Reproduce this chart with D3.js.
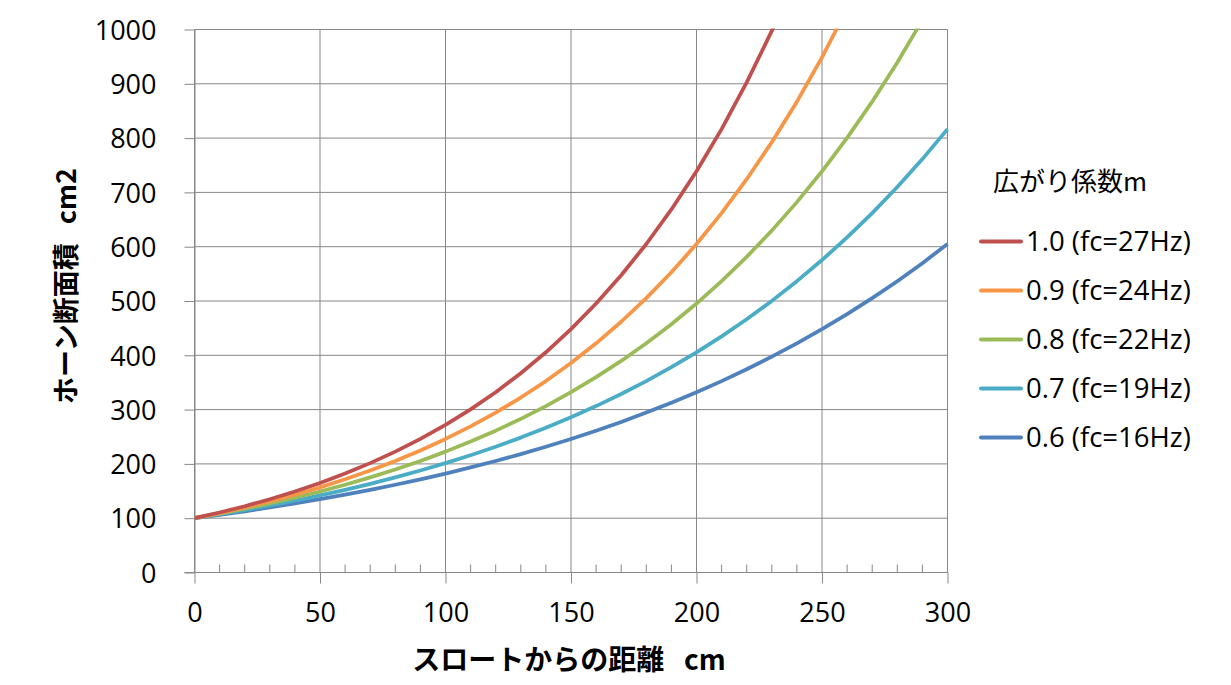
<!DOCTYPE html>
<html>
<head>
<meta charset="utf-8">
<script src="https://cdn.jsdelivr.net/npm/d3@7"></script>
<style>
  body { margin: 0; background: #fff; }
  text { font-family: "Open Sans", "Noto Sans CJK JP", sans-serif; fill: #000; }
  .jp { font-family: "Noto Sans CJK JP", sans-serif; }
</style>
</head>
<body>
<svg id="chart" width="1231" height="685"></svg>
<script>
// distance from throat, cm
const distances = d3.range(0, 301, 10);

const seriesNames = ["1.0 (fc=27Hz)", "0.9 (fc=24Hz)", "0.8 (fc=22Hz)", "0.7 (fc=19Hz)", "0.6 (fc=16Hz)"];
const seriesColors = ["#C0504D", "#F79646", "#9BBB59", "#4BACC6", "#4F81BD"];

// horn cross-section area, cm2
const area10 = [100, 110.5, 122.1, 135.0, 149.2, 164.9, 182.2, 201.4, 222.6, 246.0, 271.8, 300.4, 332.0, 366.9, 405.5, 448.2,
  495.3, 547.4, 605.0, 668.6, 738.9, 816.6, 902.5, 997.4, 1102.3, 1218.2, 1346.4, 1488.0, 1644.5, 1817.4, 2008.6];
const area09 = [100, 109.4, 119.7, 131.0, 143.3, 156.8, 171.6, 187.7, 205.4, 224.8, 246.0, 269.1, 294.5, 322.2, 352.5, 385.7,
  422.1, 461.8, 505.3, 552.9, 605.0, 661.9, 724.3, 792.5, 867.1, 948.8, 1038.2, 1135.9, 1242.9, 1359.9, 1488.0];
const area08 = [100, 108.3, 117.4, 127.1, 137.7, 149.2, 161.6, 175.1, 189.6, 205.4, 222.6, 241.1, 261.2, 282.9, 306.5, 332.0,
  359.7, 389.6, 422.1, 457.2, 495.3, 536.5, 581.2, 629.6, 682.1, 738.9, 800.4, 867.1, 939.3, 1017.5, 1102.3];
const area07 = [100, 107.3, 115.0, 123.4, 132.3, 141.9, 152.2, 163.2, 175.1, 187.8, 201.4, 216.0, 231.6, 248.4, 266.4, 285.8,
  306.5, 328.7, 352.5, 378.1, 405.5, 434.9, 466.4, 500.2, 536.5, 575.4, 617.1, 661.9, 709.9, 761.3, 816.6];
const area06 = [100, 106.2, 112.7, 119.7, 127.1, 135.0, 143.3, 152.2, 161.6, 171.6, 182.2, 193.5, 205.4, 218.1, 231.6, 246.0,
  261.2, 277.3, 294.5, 312.7, 332.0, 352.5, 374.3, 397.5, 422.1, 448.2, 475.9, 505.3, 536.5, 569.7, 605.0];

const allAreas = [area10, area09, area08, area07, area06];

const xTicks = [0, 50, 100, 150, 200, 250, 300];
const xMinorTicks = d3.range(0, 301, 10);
const yTicks = d3.range(0, 1001, 100);

const legendTitle = "広がり係数m";
const xTitle = "スロートからの距離\u2002\u2009cm";
const yTitle = "ホーン断面積\u2002\u2009cm2";

const plotL = 194.5, plotR = 947.5, plotT = 29.5, plotB = 572.5;
const gridColor = "#878787";

const svg = d3.select("#chart");

const x = d3.scaleLinear().domain([0, 300]).range([plotL, plotR]);
const y = d3.scaleLinear().domain([0, 1000]).range([plotB, plotT]);

// gridlines
svg.append("g").selectAll("line")
  .data(yTicks)
  .join("line")
  .attr("x1", plotL).attr("x2", plotR)
  .attr("y1", d => y(d)).attr("y2", d => y(d))
  .attr("stroke", gridColor);

svg.append("g").selectAll("line")
  .data(xTicks)
  .join("line")
  .attr("x1", d => x(d)).attr("x2", d => x(d))
  .attr("y1", plotT).attr("y2", plotB)
  .attr("stroke", gridColor);

// y axis
const yAxis = svg.append("g")
  .attr("transform", `translate(${plotL},0)`)
  .call(d3.axisLeft(y).tickValues(yTicks).tickFormat(d3.format("d"))
    .tickSize(10).tickPadding(28).tickSizeOuter(0));
yAxis.select(".domain").attr("stroke", gridColor);
yAxis.selectAll(".tick line").attr("stroke", gridColor);
yAxis.selectAll(".tick text").style("font-size", "27px").attr("dy", "0.36em");

// x axis, major ticks hang below
const xAxis = svg.append("g")
  .attr("transform", `translate(0,${plotB})`)
  .call(d3.axisBottom(x).tickValues(xTicks).tickFormat(d3.format("d"))
    .tickSize(11).tickPadding(0).tickSizeOuter(0));
xAxis.select(".domain").remove();
xAxis.selectAll(".tick line").attr("stroke", gridColor);
xAxis.selectAll(".tick text").style("font-size", "27px").attr("y", 49).attr("dy", 0);

svg.append("line")
  .attr("x1", plotL - 10).attr("x2", plotR)
  .attr("y1", plotB).attr("y2", plotB)
  .attr("stroke", gridColor);

// minor ticks stand up inside the plot
svg.append("g").selectAll("line")
  .data(xMinorTicks.filter(d => d % 50 !== 0))
  .join("line")
  .attr("x1", d => x(d)).attr("x2", d => x(d))
  .attr("y1", plotB).attr("y2", plotB - 8)
  .attr("stroke", gridColor);

// curves
svg.append("clipPath").attr("id", "plotClip")
  .append("rect")
  .attr("x", plotL).attr("y", plotT - 1)
  .attr("width", plotR - plotL + 2).attr("height", plotB - plotT + 1);

const line = d3.line()
  .x((d, i) => x(distances[i]))
  .y(d => y(d));

svg.append("g")
  .attr("clip-path", "url(#plotClip)")
  .selectAll("path")
  .data(allAreas.slice().reverse())
  .join("path")
  .attr("d", line)
  .attr("fill", "none")
  .attr("stroke", (d, i) => seriesColors[allAreas.length - 1 - i])
  .attr("stroke-width", 3.75)
  .attr("stroke-linejoin", "round");

// legend
const legend = svg.append("g");
legend.append("text")
  .attr("class", "jp")
  .attr("x", 993).attr("y", 191)
  .style("font-size", "26px")
  .text(legendTitle);

const rows = legend.selectAll("g.row")
  .data(seriesNames)
  .join("g")
  .attr("class", "row")
  .attr("transform", (d, i) => `translate(0,${241.5 + i * 49})`);
rows.append("line")
  .attr("x1", 981).attr("x2", 1021)
  .attr("stroke", (d, i) => seriesColors[i])
  .attr("stroke-width", 4)
  .attr("stroke-linecap", "round");
rows.append("text")
  .attr("x", 1026).attr("dy", "0.36em")
  .style("font-size", "27.5px")
  .text(d => d);

// axis titles
svg.append("text")
  .attr("class", "jp")
  .attr("x", 569).attr("y", 670)
  .attr("text-anchor", "middle")
  .style("font-size", "28px").style("font-weight", "bold")
  .text(xTitle);

svg.append("text")
  .attr("class", "jp")
  .attr("transform", "translate(76,286) rotate(-90)")
  .attr("text-anchor", "middle")
  .style("font-size", "27px").style("font-weight", "bold")
  .text(yTitle);
</script>
</body>
</html>
